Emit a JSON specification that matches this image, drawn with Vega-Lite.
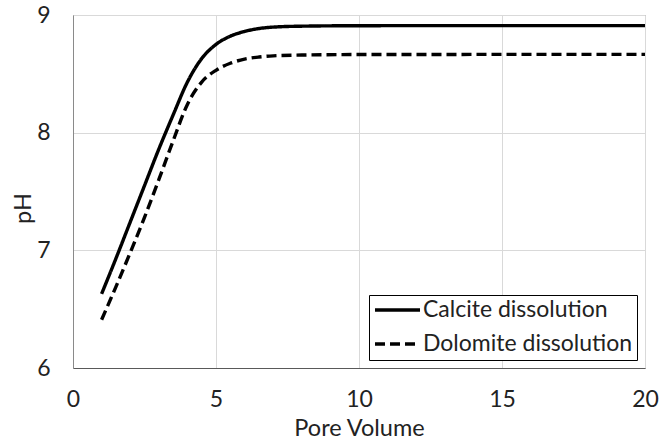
{
  "$schema": "https://vega.github.io/schema/vega-lite/v6.json",
  "width": 572,
  "height": 353,
  "autosize": {"type": "none"},
  "padding": {"left": 73, "top": 15, "right": 14, "bottom": 73},
  "background": "white",
  "config": {
    "font": "Lato",
    "view": {"stroke": "#8a8a8a", "strokeWidth": 1},
    "axis": {
      "labelFont": "Lato",
      "titleFont": "Lato",
      "labelFontSize": 23,
      "titleFontSize": 23.5,
      "labelColor": "#222222",
      "titleColor": "#222222",
      "titleFontWeight": "normal",
      "ticks": false,
      "labelFlush": false,
      "gridColor": "#d9d9d9",
      "gridWidth": 1
    },
    "legend": {"labelFont": "Lato"}
  },
  "data": {
    "values": [
      {"pv": 1.0, "ph": 6.63, "series": "Calcite dissolution"},
      {"pv": 1.5, "ph": 6.93, "series": "Calcite dissolution"},
      {"pv": 2.0, "ph": 7.24, "series": "Calcite dissolution"},
      {"pv": 2.5, "ph": 7.55, "series": "Calcite dissolution"},
      {"pv": 3.0, "ph": 7.86, "series": "Calcite dissolution"},
      {"pv": 3.5, "ph": 8.15, "series": "Calcite dissolution"},
      {"pv": 4.0, "ph": 8.43, "series": "Calcite dissolution"},
      {"pv": 4.5, "ph": 8.63, "series": "Calcite dissolution"},
      {"pv": 5.0, "ph": 8.75, "series": "Calcite dissolution"},
      {"pv": 5.5, "ph": 8.82, "series": "Calcite dissolution"},
      {"pv": 6.0, "ph": 8.86, "series": "Calcite dissolution"},
      {"pv": 6.5, "ph": 8.885, "series": "Calcite dissolution"},
      {"pv": 7.0, "ph": 8.897, "series": "Calcite dissolution"},
      {"pv": 8.0, "ph": 8.905, "series": "Calcite dissolution"},
      {"pv": 10.0, "ph": 8.909, "series": "Calcite dissolution"},
      {"pv": 15.0, "ph": 8.91, "series": "Calcite dissolution"},
      {"pv": 20.0, "ph": 8.91, "series": "Calcite dissolution"},
      {"pv": 1.0, "ph": 6.41, "series": "Dolomite dissolution"},
      {"pv": 1.5, "ph": 6.69, "series": "Dolomite dissolution"},
      {"pv": 2.0, "ph": 6.98, "series": "Dolomite dissolution"},
      {"pv": 2.5, "ph": 7.28, "series": "Dolomite dissolution"},
      {"pv": 3.0, "ph": 7.6, "series": "Dolomite dissolution"},
      {"pv": 3.5, "ph": 7.93, "series": "Dolomite dissolution"},
      {"pv": 4.0, "ph": 8.24, "series": "Dolomite dissolution"},
      {"pv": 4.5, "ph": 8.43, "series": "Dolomite dissolution"},
      {"pv": 5.0, "ph": 8.53, "series": "Dolomite dissolution"},
      {"pv": 5.5, "ph": 8.59, "series": "Dolomite dissolution"},
      {"pv": 6.0, "ph": 8.625, "series": "Dolomite dissolution"},
      {"pv": 6.5, "ph": 8.643, "series": "Dolomite dissolution"},
      {"pv": 7.0, "ph": 8.653, "series": "Dolomite dissolution"},
      {"pv": 8.0, "ph": 8.66, "series": "Dolomite dissolution"},
      {"pv": 10.0, "ph": 8.664, "series": "Dolomite dissolution"},
      {"pv": 15.0, "ph": 8.665, "series": "Dolomite dissolution"},
      {"pv": 20.0, "ph": 8.665, "series": "Dolomite dissolution"}
    ]
  },
  "mark": {"type": "line", "interpolate": "monotone", "strokeWidth": 3.4, "color": "black", "strokeCap": "butt"},
  "encoding": {
    "x": {
      "field": "pv",
      "type": "quantitative",
      "scale": {"domain": [0, 20], "nice": false},
      "axis": {
        "title": "Pore Volume",
        "values": [0, 5, 10, 15, 20],
        "domainColor": "#595959",
        "domainWidth": 1.2,
        "labelPadding": 20,
        "titleY": 60,
        "titleBaseline": "middle"
      }
    },
    "y": {
      "field": "ph",
      "type": "quantitative",
      "scale": {"domain": [6, 9], "nice": false, "zero": false},
      "axis": {
        "title": "pH",
        "values": [6, 7, 8, 9],
        "domainColor": "#8a8a8a",
        "labelPadding": 23,
        "titleX": -50,
        "titleY": 193,
        "titleAngle": -90,
        "titleAlign": "center",
        "titleBaseline": "middle"
      }
    },
    "strokeDash": {
      "field": "series",
      "type": "nominal",
      "scale": {
        "domain": ["Calcite dissolution", "Dolomite dissolution"],
        "range": [[1, 0], [10, 5]]
      },
      "legend": {
        "title": null,
        "orient": "none",
        "legendX": 296,
        "legendY": 280,
        "direction": "vertical",
        "symbolType": "stroke",
        "symbolSize": 2025,
        "symbolStrokeWidth": 3.4,
        "symbolStrokeColor": "black",
        "symbolOffset": 0,
        "clipHeight": 22,
        "rowPadding": 11,
        "labelFontSize": 23,
        "labelColor": "#222222",
        "labelOffset": 1,
        "labelLimit": 400,
        "padding": 4,
        "strokeColor": "black",
        "fillColor": "white"
      }
    }
  }
}
